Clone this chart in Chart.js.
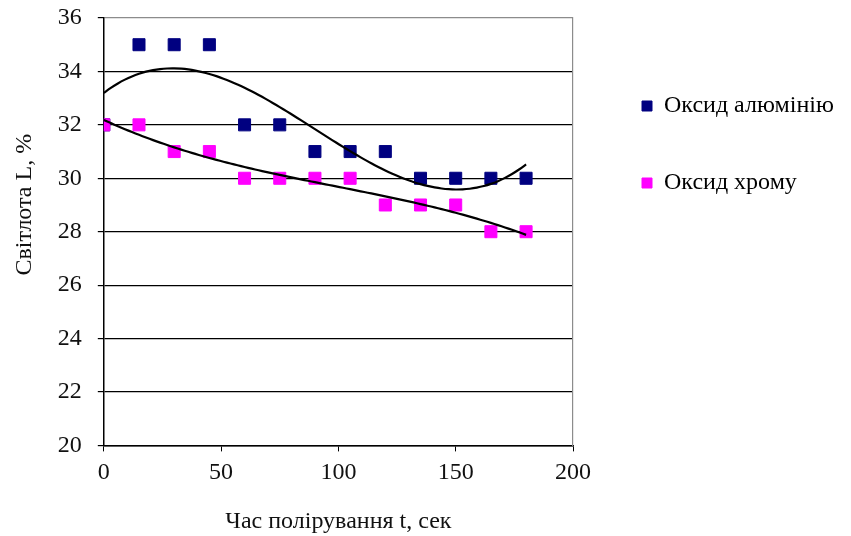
<!DOCTYPE html>
<html>
<head>
<meta charset="utf-8">
<script src="https://cdn.jsdelivr.net/npm/chart.js@4.4.0/dist/chart.umd.min.js"></script>
<style>
  html, body { margin: 0; padding: 0; background: #fff; }
  #wrap { width: 851px; height: 536px; }
</style>
</head>
<body>
<div id="wrap"><canvas id="chart"></canvas></div>
<script>
// === Дані ===
const timeSec = [0, 15, 30, 45, 60, 75, 90, 105, 120, 135, 150, 165, 180];
const aluminaL = [32, 35, 35, 35, 32, 32, 31, 31, 31, 30, 30, 30, 30];
const chromeL = [32, 32, 31, 31, 30, 30, 30, 30, 29, 29, 29, 28, 28];
const seriesNames = ['Оксид алюмінію', 'Оксид хрому'];
const yTicks = [20, 22, 24, 26, 28, 30, 32, 34, 36];
const xTicks = [0, 50, 100, 150, 200];

// Поліноміальна лінія тренду (МНК), як у Excel
function polyFit(xs, ys, deg) {
    const n = deg + 1;
    const A = [];
    for (let i = 0; i < n; i++) {
        A.push(new Array(n + 1).fill(0));
    }
    for (let k = 0; k < xs.length; k++) {
        for (let i = 0; i < n; i++) {
            for (let j = 0; j < n; j++) A[i][j] += Math.pow(xs[k], i + j);
            A[i][n] += ys[k] * Math.pow(xs[k], i);
        }
    }
    for (let c = 0; c < n; c++) {
        let p = c;
        for (let r = c + 1; r < n; r++) if (Math.abs(A[r][c]) > Math.abs(A[p][c])) p = r;
        [A[c], A[p]] = [A[p], A[c]];
        for (let r = 0; r < n; r++) {
            if (r === c) continue;
            const f = A[r][c] / A[c][c];
            for (let j = c; j <= n; j++) A[r][j] -= f * A[c][j];
        }
    }
    return A.map((row, i) => row[n] / row[i]);
}

function trendPoints(xs, ys, deg) {
    const coef = polyFit(xs, ys, deg);
    const pts = [];
    const x0 = xs[0], x1 = xs[xs.length - 1];
    for (let i = 0; i <= 60; i++) {
        const x = x0 + (x1 - x0) * i / 60;
        let y = 0;
        coef.forEach((c, k) => { y += c * Math.pow(x, k); });
        pts.push({ x: x, y: y });
    }
    return pts;
}

const serif = '"Liberation Serif", "Times New Roman", serif';
const fontSize = 24;
const legendGap = 53;      // відстань між пунктами легенди
const rightGap = 16;       // зазор між областю графіка і легендою

// ширина легенди, щоб легенда стала на своє місце
const mctx = document.createElement('canvas').getContext('2d');
mctx.font = fontSize + 'px ' + serif;
const textW = Math.max(...seriesNames.map(s => mctx.measureText(s).width));
const legendW = legendGap + 10 + fontSize / 2 + textW;
const padRight = Math.max(0, 851 - 593 - legendW - 6);

new Chart(document.getElementById('chart').getContext('2d'), {
    type: 'scatter',
    data: {
        datasets: [{
            label: seriesNames[0],
            data: timeSec.map((t, i) => ({ x: t, y: aluminaL[i] })),
            backgroundColor: '#000080',
            borderColor: '#000080',
            pointStyle: 'rect',
            pointRadius: 8.5,
            pointHoverRadius: 8.5,
            order: 3
        }, {
            label: seriesNames[1],
            data: timeSec.map((t, i) => ({ x: t, y: chromeL[i] })),
            backgroundColor: '#ff00ff',
            borderColor: '#ff00ff',
            pointStyle: 'rect',
            pointRadius: 8.5,
            pointHoverRadius: 8.5,
            order: 2
        }, {
            label: 'trend1',
            data: trendPoints(timeSec, aluminaL, 3),
            showLine: true,
            borderColor: '#000',
            borderWidth: 2.2,
            pointRadius: 0,
            tension: 0.3,
            order: 1
        }, {
            label: 'trend2',
            data: trendPoints(timeSec, chromeL, 3),
            showLine: true,
            borderColor: '#000',
            borderWidth: 2.2,
            pointRadius: 0,
            tension: 0.3,
            order: 1
        }]
    },
    options: {
        responsive: true,
        maintainAspectRatio: false,
        animation: false,
        layout: { padding: { top: 18, right: padRight, bottom: 0, left: 4 } },
        plugins: {
            legend: {
                position: 'right',
                align: 'start',
                maxWidth: 400,
                title: { display: true, text: ' ', padding: 0, font: { family: serif, size: 23, lineHeight: 1 } },
                labels: {
                    filter: item => item.datasetIndex < 2,
                    sort: (a, b) => a.datasetIndex - b.datasetIndex,
                    boxWidth: 10,
                    boxHeight: 10,
                    padding: legendGap,
                    color: '#000',
                    font: { family: serif, size: fontSize }
                }
            },
            tooltip: { enabled: false }
        },
        scales: {
            x: {
                type: 'linear',
                min: 0,
                max: 200,
                afterBuildTicks: axis => { axis.ticks = xTicks.map(v => ({ value: v })); },
                grid: {
                    drawOnChartArea: false,
                    tickColor: '#000',
                    tickLength: 6
                },
                border: { color: '#000', width: 1.5 },
                ticks: { color: '#111', padding: 7, font: { family: serif, size: fontSize } },
                title: {
                    display: true,
                    text: 'Час полірування t, сек',
                    color: '#111',
                    padding: { top: 13, bottom: 0 },
                    font: { family: serif, size: fontSize }
                }
            },
            y: {
                min: 20,
                max: 36,
                afterBuildTicks: axis => { axis.ticks = yTicks.map(v => ({ value: v })); },
                afterFit: axis => { axis.paddingTop = 0; },
                grid: {
                    color: ctx => (ctx.tick && ctx.tick.value === 36 ? '#8c8c8c' : '#000'),
                    lineWidth: 1.2,
                    tickColor: '#000',
                    tickLength: 6
                },
                border: { color: '#000', width: 1.5 },
                ticks: { color: '#111', padding: 16, font: { family: serif, size: fontSize } },
                title: {
                    display: true,
                    text: '         Світлота L, %',
                    color: '#111',
                    padding: { top: 6, bottom: 3 },
                    font: { family: serif, size: fontSize }
                }
            },
            yRight: {
                position: 'right',
                min: 20,
                max: 36,
                grid: { drawOnChartArea: false, drawTicks: false },
                border: { color: '#8c8c8c', width: 1.2 },
                ticks: { display: false },
                afterFit: axis => { axis.width = rightGap; }
            }
        }
    }
});
</script>
</body>
</html>
